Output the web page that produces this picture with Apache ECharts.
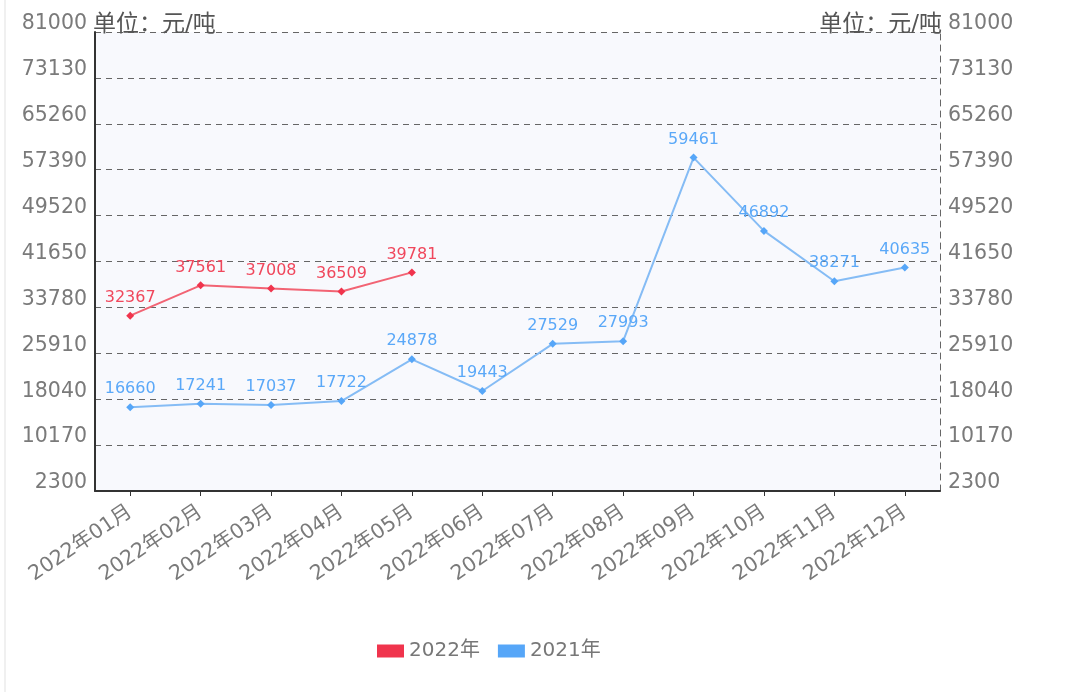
<!DOCTYPE html>
<html><head><meta charset="utf-8">
<script src="https://cdn.jsdelivr.net/npm/echarts@6/dist/echarts.min.js"></script>
<style>html,body{margin:0;padding:0;background:#fff}#c{width:1077px;height:692px}#f{position:absolute;left:4px;top:0;width:2px;height:692px;background:#f0f0f0}</style>
</head><body><div id="f"></div><div id="c"></div>
<script>
const categories = ['2022年01月','2022年02月','2022年03月','2022年04月','2022年05月','2022年06月','2022年07月','2022年08月','2022年09月','2022年10月','2022年11月','2022年12月'];
const series2022 = [32367, 37561, 37008, 36509, 39781];
const series2021 = [16660, 17241, 17037, 17722, 24878, 19443, 27529, 27993, 59461, 46892, 38271, 40635];
const yMin = 2300, yMax = 81000, yStep = 7870;
const unitName = '单位：元/吨';

const font = '"DejaVu Sans", "Noto Sans CJK SC", sans-serif';
const chart = echarts.init(document.getElementById('c'));
const yAxisBase = {
  type: 'value', min: yMin, max: yMax, interval: yStep,
  name: unitName,
  nameGap: -5,
  axisLabel: {color: '#7a7a7a', fontSize: 20.5, fontFamily: font, margin: 8, verticalAlign: 'bottom', lineHeight: 16, formatter: v => String(v)},
  axisTick: {show: false},
  splitLine: {show: true, lineStyle: {color: '#666', type: [6, 5], width: 1}}
};
chart.setOption({
  animation: false,
  textStyle: {fontFamily: font},
  grid: {left: 95, right: 137, top: 32, bottom: 201, show: true, backgroundColor: '#f8f9fd', borderWidth: 0},
  legend: {
    bottom: 26, left: 372, itemWidth: 27, itemHeight: 13, itemGap: 18,
    icon: 'rect',
    textStyle: {color: '#777', fontSize: 20, fontFamily: font},
    data: ['2022年', '2021年']
  },
  xAxis: {
    type: 'category', data: categories, boundaryGap: true,
    axisLine: {lineStyle: {color: '#333', width: 2}},
    axisTick: {show: true, alignWithLabel: true, lineStyle: {color: '#333'}},
    axisLabel: {rotate: 34, color: '#7a7a7a', fontSize: 20.5, fontFamily: font, margin: 19, interval: 0}
  },
  yAxis: [
    Object.assign({}, yAxisBase, {
      position: 'left',
      nameTextStyle: {color: '#555', fontSize: 23, fontFamily: font, align: 'left', padding: [0,0,0,-2]},
      axisLine: {show: true, lineStyle: {color: '#333', width: 2}}
    }),
    Object.assign({}, yAxisBase, {
      position: 'right',
      nameTextStyle: {color: '#555', fontSize: 23, fontFamily: font, align: 'right', padding: [0,-2,0,0]},
      axisLine: {show: true, lineStyle: {color: '#666', type: [6, 5], width: 1}},
      splitLine: {show: false}
    })
  ],
  series: [
    {
      name: '2022年', type: 'line', data: series2022,
      symbol: 'diamond', symbolSize: 8,
      itemStyle: {color: '#f0344d'},
      lineStyle: {color: '#f26474', width: 2},
      label: {show: true, position: 'top', color: '#f0475c', fontSize: 16, fontFamily: font, distance: 6}
    },
    {
      name: '2021年', type: 'line', data: series2021,
      symbol: 'diamond', symbolSize: 8,
      itemStyle: {color: '#56a6f8'},
      lineStyle: {color: '#85bcf5', width: 2},
      label: {show: true, position: 'top', color: '#5aa8f8', fontSize: 16, fontFamily: font, distance: 6}
    }
  ]
});
</script></body></html>
